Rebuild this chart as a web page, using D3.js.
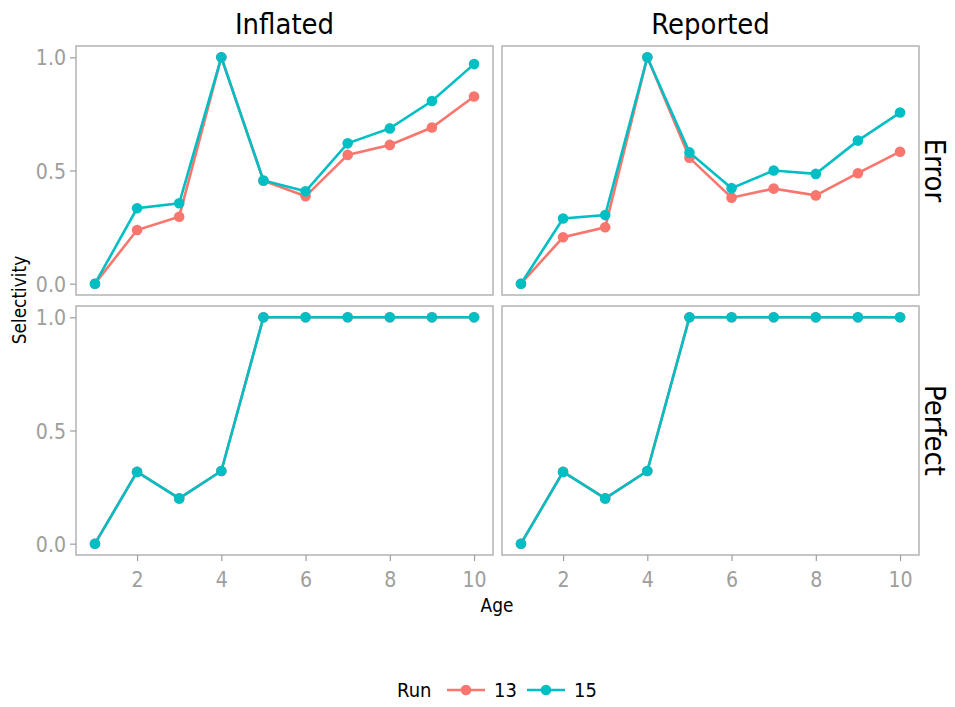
<!DOCTYPE html>
<html>
<head>
<meta charset="utf-8">
<script src="https://cdn.jsdelivr.net/npm/d3@7"></script>
<style>
  body { margin: 0; background: #fff; }
  text { font-family: "DejaVu Sans", sans-serif; }
</style>
</head>
<body>
<svg id="chart" width="955" height="707"></svg>
<script>
// ages on the x axis
var ages = [1, 2, 3, 4, 5, 6, 7, 8, 9, 10];
var runs = ["13", "15"];
var columns = ["Inflated", "Reported"];
var rows = ["Error", "Perfect"];
var yTicks = [0, 0.5, 1];
var xTicks = [2, 4, 6, 8, 10];

// selectivity by panel and run
var inflatedError13 = [0, 0.237, 0.296, 1.0, 0.455, 0.386, 0.569, 0.613, 0.69, 0.827];
var inflatedError15 = [0, 0.333, 0.355, 1.0, 0.456, 0.408, 0.62, 0.686, 0.807, 0.97];
var reportedError13 = [0, 0.205, 0.249, 1.0, 0.556, 0.38, 0.42, 0.39, 0.488, 0.583];
var reportedError15 = [0, 0.288, 0.303, 1.0, 0.58, 0.422, 0.5, 0.485, 0.632, 0.756];
var perfect13 = [0, 0.317, 0.2, 0.321, 1, 1, 1, 1, 1, 1];
var perfect15 = [0, 0.317, 0.2, 0.321, 1, 1, 1, 1, 1, 1];

var panelData = {
    "Inflated-Error": [inflatedError13, inflatedError15],
    "Reported-Error": [reportedError13, reportedError15],
    "Inflated-Perfect": [perfect13, perfect15],
    "Reported-Perfect": [perfect13, perfect15]
};

var colors = d3.scaleOrdinal().domain(runs).range(["#F8766D", "#00BFC4"]);

var svg = d3.select("#chart");

var panelW = 417, panelH = 249;
var colX = [76, 502];
var rowY = [46, 306];
var gray = "#9e9e9e";

// text a bit taller than wide, like the reference
var stretch = function (sel, x, y, rot) {
    sel.attr("transform", "translate(" + x + "," + y + ")" + (rot ? " rotate(" + rot + ")" : "") + " scale(1,1.12)");
};

// x and y scales with ggplot-like 5% expansion
var x = d3.scaleLinear().domain([1 - 0.45, 10 + 0.45]).range([0, panelW]);
var y = d3.scaleLinear().domain([-0.05, 1.05]).range([panelH, 0]);

var line = d3.line()
    .x(function (d, i) { return x(ages[i]); })
    .y(function (d) { return y(d); });

rows.forEach(function (rowName, ri) {
    columns.forEach(function (colName, ci) {
        var g = svg.append("g")
            .attr("transform", "translate(" + colX[ci] + "," + rowY[ri] + ")");

        g.append("rect")
            .attr("width", panelW)
            .attr("height", panelH)
            .attr("fill", "#fff")
            .attr("stroke", "#b3b3b3")
            .attr("stroke-width", 1.5);

        var series = panelData[colName + "-" + rowName];
        series.forEach(function (vals, si) {
            g.append("path")
                .datum(vals)
                .attr("d", line)
                .attr("fill", "none")
                .attr("stroke", colors(runs[si]))
                .attr("stroke-width", 2.6);

            g.selectAll(".pt" + si)
                .data(vals)
                .enter()
                .append("circle")
                .attr("class", "pt" + si)
                .attr("cx", function (d, i) { return x(ages[i]); })
                .attr("cy", function (d) { return y(d); })
                .attr("r", 5.3)
                .attr("fill", colors(runs[si]));
        });

        // y axis on the left column
        if (ci === 0) {
            var ya = g.append("g")
                .call(d3.axisLeft(y).tickValues(yTicks).tickSize(6).tickPadding(4).tickFormat(d3.format(".1f")));
            ya.select(".domain").remove();
            ya.selectAll("line").attr("stroke", gray).attr("stroke-width", 1.2);
            ya.selectAll("text")
                .attr("fill", gray)
                .style("font-size", "19px")
                .attr("dy", "0.36em")
                .attr("x", null)
                .each(function () {
                    var t = d3.select(this);
                    t.attr("text-anchor", "end");
                    stretch(t, -10, 0);
                });
        }

        // x axis on the bottom row
        if (ri === rows.length - 1) {
            var xa = g.append("g")
                .attr("transform", "translate(0," + panelH + ")")
                .call(d3.axisBottom(x).tickValues(xTicks).tickSize(6).tickPadding(4));
            xa.select(".domain").remove();
            xa.selectAll("line").attr("stroke", gray).attr("stroke-width", 1.2);
            xa.selectAll("text")
                .attr("fill", gray)
                .style("font-size", "19px")
                .attr("y", null)
                .attr("dy", null)
                .each(function () {
                    stretch(d3.select(this), 0, 32);
                });
        }

        // strip labels
        if (ri === 0) {
            svg.append("text")
                .attr("text-anchor", "middle")
                .style("font-size", "26px")
                .attr("fill", "#000")
                .text(colName)
                .call(stretch, colX[ci] + panelW / 2, 34);
        }
        if (ci === columns.length - 1) {
            svg.append("text")
                .attr("text-anchor", "middle")
                .style("font-size", "26px")
                .attr("fill", "#000")
                .text(rowName)
                .call(stretch, 925, rowY[ri] + panelH / 2, 90);
        }
    });
});

// axis titles
svg.append("text")
    .attr("text-anchor", "middle")
    .style("font-size", "17px")
    .text("Age")
    .call(stretch, 497, 612);

svg.append("text")
    .attr("text-anchor", "middle")
    .style("font-size", "17px")
    .text("Selectivity")
    .call(stretch, 26, 300, -90);

// legend
var legend = svg.append("g").attr("transform", "translate(397,697)");
legend.append("text")
    .style("font-size", "18px")
    .text("Run")
    .call(stretch, 0, 0);

var keyX = [50, 130];
runs.forEach(function (r, i) {
    var k = legend.append("g").attr("transform", "translate(" + keyX[i] + ",-7)");
    k.append("line")
        .attr("x1", 0).attr("x2", 38)
        .attr("stroke", colors(r))
        .attr("stroke-width", 2.6);
    k.append("circle")
        .attr("cx", 19)
        .attr("r", 5.3)
        .attr("fill", colors(r));
    legend.append("text")
        .style("font-size", "18px")
        .text(r)
        .call(stretch, keyX[i] + 47, 0);
});
</script>
</body>
</html>
